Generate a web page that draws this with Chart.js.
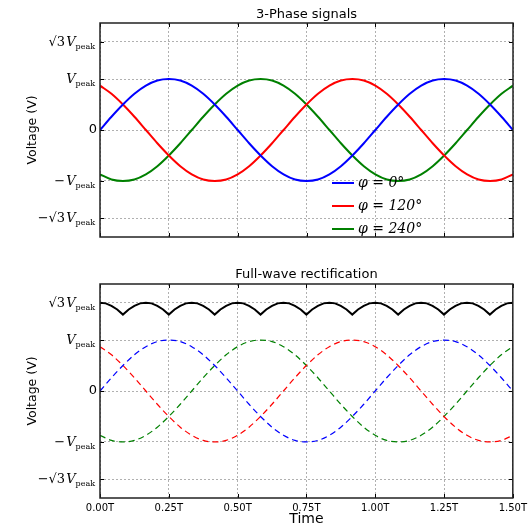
<!DOCTYPE html>
<html>
<head>
<meta charset="utf-8">
<script src="https://cdn.jsdelivr.net/npm/chart.js@4.4.0/dist/chart.umd.min.js"></script>
<style>
  body { margin: 0; background: #fff; }
  #topChart { position: absolute; left: 0; top: 0; }
  #botChart { position: absolute; left: 0; top: 258px; }
</style>
</head>
<body>
<canvas id="topChart" width="531" height="250"></canvas>
<canvas id="botChart" width="531" height="270"></canvas>
<script>
// tick positions and labels
const yTickValues = [-1.732, -1, 0, 1, 1.732];
const yTickLabels = ['−√3 V_peak', '−V_peak', '0', 'V_peak', '√3 V_peak'];
const xTickValues = [0, 0.25, 0.5, 0.75, 1, 1.25, 1.5];
const xTickLabels = ['0.00T', '0.25T', '0.50T', '0.75T', '1.00T', '1.25T', '1.50T'];

const phaseLabels = ['φ = 0°', 'φ = 120°', 'φ = 240°'];
const phaseColors = ['#0000ff', '#ff0000', '#008000'];

// phase voltages (units of Vpeak), one sample every T/24
const vBlue = [0, 0.26, 0.5, 0.71, 0.87, 0.97, 1, 0.97, 0.87, 0.71, 0.5, 0.26,
  0, -0.26, -0.5, -0.71, -0.87, -0.97, -1, -0.97, -0.87, -0.71, -0.5, -0.26,
  0, 0.26, 0.5, 0.71, 0.87, 0.97, 1, 0.97, 0.87, 0.71, 0.5, 0.26, 0];
const vRed = [0.87, 0.71, 0.5, 0.26, 0, -0.26, -0.5, -0.71, -0.87, -0.97, -1, -0.97,
  -0.87, -0.71, -0.5, -0.26, 0, 0.26, 0.5, 0.71, 0.87, 0.97, 1, 0.97,
  0.87, 0.71, 0.5, 0.26, 0, -0.26, -0.5, -0.71, -0.87, -0.97, -1, -0.97, -0.87];
const vGreen = [-0.87, -0.97, -1, -0.97, -0.87, -0.71, -0.5, -0.26, 0, 0.26, 0.5, 0.71,
  0.87, 0.97, 1, 0.97, 0.87, 0.71, 0.5, 0.26, 0, -0.26, -0.5, -0.71,
  -0.87, -0.97, -1, -0.97, -0.87, -0.71, -0.5, -0.26, 0, 0.26, 0.5, 0.71, 0.87];

// rectified output, one sample every T/48
const vRect = [
  1.73, 1.72, 1.67, 1.60, 1.50, 1.60, 1.67, 1.72,
  1.73, 1.72, 1.67, 1.60, 1.50, 1.60, 1.67, 1.72,
  1.73, 1.72, 1.67, 1.60, 1.50, 1.60, 1.67, 1.72,
  1.73, 1.72, 1.67, 1.60, 1.50, 1.60, 1.67, 1.72,
  1.73, 1.72, 1.67, 1.60, 1.50, 1.60, 1.67, 1.72,
  1.73, 1.72, 1.67, 1.60, 1.50, 1.60, 1.67, 1.72,
  1.73, 1.72, 1.67, 1.60, 1.50, 1.60, 1.67, 1.72,
  1.73, 1.72, 1.67, 1.60, 1.50, 1.60, 1.67, 1.72,
  1.73, 1.72, 1.67, 1.60, 1.50, 1.60, 1.67, 1.72,
  1.73];

const t24 = vBlue.map((_, i) => i / 24);
const t48 = vRect.map((_, i) => i / 48);
const xy = (ts, vs) => vs.map((v, i) => ({ x: ts[i], y: v }));

Chart.defaults.font.family = 'DejaVu Sans';
Chart.defaults.color = '#000';

// tick label like "√3 V_peak": upright prefix, italic V, small subscript
function drawMathLabel(ctx, label, xRight, y) {
  if (label.indexOf('_') < 0) {
    ctx.font = '13px DejaVu Sans';
    ctx.textAlign = 'right';
    ctx.textBaseline = 'middle';
    ctx.fillText(label, xRight + 2, y);
    return;
  }
  const [main, sub] = label.split('_');
  const pre = main.slice(0, -1).replace(' ', '');
  const fPre = '13px DejaVu Serif', fV = 'italic 13px DejaVu Serif', fSub = '8px DejaVu Serif';
  ctx.font = fSub; const ws = ctx.measureText(sub).width;
  ctx.font = fV; const wv = ctx.measureText('V').width;
  ctx.font = fPre; const wp = ctx.measureText(pre).width;
  let x = xRight - ws - wv - wp - 1;
  ctx.textAlign = 'left';
  ctx.textBaseline = 'alphabetic';
  const base = y + 4;
  ctx.font = fPre; ctx.fillText(pre, x, base); x += wp + 1;
  ctx.font = fV; ctx.fillText('V', x, base); x += wv;
  ctx.font = fSub; ctx.fillText(sub, x, base + 3);
}

const framePlugin = {
  id: 'frame',
  afterDraw(chart, args, opts) {
    const { ctx, chartArea: a } = chart;
    const ys = chart.scales.y, xs = chart.scales.x;
    ctx.save();
    ctx.fillStyle = '#000';
    yTickValues.forEach((v, i) => drawMathLabel(ctx, yTickLabels[i], a.left - 5, ys.getPixelForValue(v)));

    // inward tick marks on all four sides
    ctx.strokeStyle = '#000';
    ctx.lineWidth = 1;
    ctx.beginPath();
    xTickValues.forEach(v => {
      const px = Math.round(xs.getPixelForValue(v)) + 0.5;
      ctx.moveTo(px, a.bottom); ctx.lineTo(px, a.bottom - 4);
      ctx.moveTo(px, a.top); ctx.lineTo(px, a.top + 4);
    });
    yTickValues.forEach(v => {
      const py = Math.round(ys.getPixelForValue(v)) + 0.5;
      ctx.moveTo(a.left, py); ctx.lineTo(a.left + 4, py);
      ctx.moveTo(a.right, py); ctx.lineTo(a.right - 4, py);
    });
    ctx.stroke();

    ctx.strokeStyle = '#222';
    ctx.lineWidth = 1.5;
    ctx.strokeRect(a.left, a.top, a.right - a.left, a.bottom - a.top);

    if (opts.legend) {
      chart.data.datasets.forEach((ds, i) => {
        const y = a.bottom - 54 + i * 23;
        ctx.strokeStyle = ds.borderColor;
        ctx.lineWidth = 2;
        ctx.beginPath();
        ctx.moveTo(a.right - 181, y);
        ctx.lineTo(a.right - 159, y);
        ctx.stroke();
        ctx.font = 'italic 14px DejaVu Serif';
        ctx.textAlign = 'left';
        ctx.textBaseline = 'middle';
        ctx.fillStyle = '#000';
        ctx.fillText(ds.label, a.right - 155, y);
      });
    }
    ctx.restore();
  }
};

function gridOpts() {
  return { color: '#b0b0b0', lineWidth: 1, drawTicks: false };
}

function yAxis() {
  return {
    type: 'linear', min: -2.1, max: 2.1,
    afterBuildTicks: s => { s.ticks = yTickValues.map(v => ({ value: v })); },
    afterFit: s => { s.width = 100; },
    ticks: { display: false },
    grid: gridOpts(),
    border: { display: false, dash: [2, 2] },
    title: { display: true, text: 'Voltage (V)', font: { size: 12.5 }, color: '#000', padding: { top: 25, bottom: 0 } }
  };
}

new Chart(document.getElementById('topChart'), {
  type: 'line',
  data: {
    datasets: [vBlue, vRed, vGreen].map((vs, i) => ({
      label: phaseLabels[i],
      data: xy(t24, vs),
      borderColor: phaseColors[i],
      borderWidth: 2,
      pointRadius: 0,
      cubicInterpolationMode: 'monotone',
      fill: false
    }))
  },
  options: {
    responsive: false,
    animation: false,
    layout: { padding: { left: 0, right: 18, top: 0, bottom: 0 } },
    scales: {
      x: {
        type: 'linear', min: 0, max: 1.5,
        afterBuildTicks: s => { s.ticks = xTickValues.map(v => ({ value: v })); },
        afterFit: s => { s.height = 13; },
        ticks: { display: false },
        grid: gridOpts(),
        border: { display: false, dash: [2, 2] }
      },
      y: yAxis()
    },
    plugins: {
      legend: { display: false },
      tooltip: { enabled: false },
      title: {
        display: true, text: '3-Phase signals', fullSize: false,
        font: { size: 13, weight: 'normal' }, color: '#000',
        padding: { top: 6.7, bottom: 0.7 }
      },
      frame: { legend: true }
    }
  },
  plugins: [framePlugin]
});

new Chart(document.getElementById('botChart'), {
  type: 'line',
  data: {
    datasets: [vBlue, vRed, vGreen].map((vs, i) => ({
      label: phaseLabels[i],
      data: xy(t24, vs),
      borderColor: phaseColors[i],
      borderWidth: 1.2,
      borderDash: [6, 4],
      pointRadius: 0,
      cubicInterpolationMode: 'monotone',
      fill: false
    })).concat([{
      label: 'rectified',
      data: xy(t48, vRect),
      borderColor: '#000',
      borderWidth: 2,
      pointRadius: 0,
      tension: 0,
      fill: false
    }])
  },
  options: {
    responsive: false,
    animation: false,
    layout: { padding: { left: 0, right: 18, top: 0, bottom: 0 } },
    scales: {
      x: {
        type: 'linear', min: 0, max: 1.5,
        afterBuildTicks: s => { s.ticks = xTickValues.map(v => ({ value: v })); },
        afterFit: s => { s.height = 30; },
        ticks: { font: { size: 10 }, color: '#000', padding: 4, maxRotation: 0, autoSkip: false,
                 callback: (v, i) => xTickLabels[i] },
        grid: gridOpts(),
        border: { display: false, dash: [2, 2] },
        title: { display: true, text: 'Time', font: { size: 14 }, color: '#000', padding: { top: 0, bottom: 0 } }
      },
      y: yAxis()
    },
    plugins: {
      legend: { display: false },
      tooltip: { enabled: false },
      title: {
        display: true, text: 'Full-wave rectification', fullSize: false,
        font: { size: 13, weight: 'normal' }, color: '#000',
        padding: { top: 9.2, bottom: 1.2 }
      },
      frame: { legend: false }
    }
  },
  plugins: [framePlugin]
});
</script>
</body>
</html>
